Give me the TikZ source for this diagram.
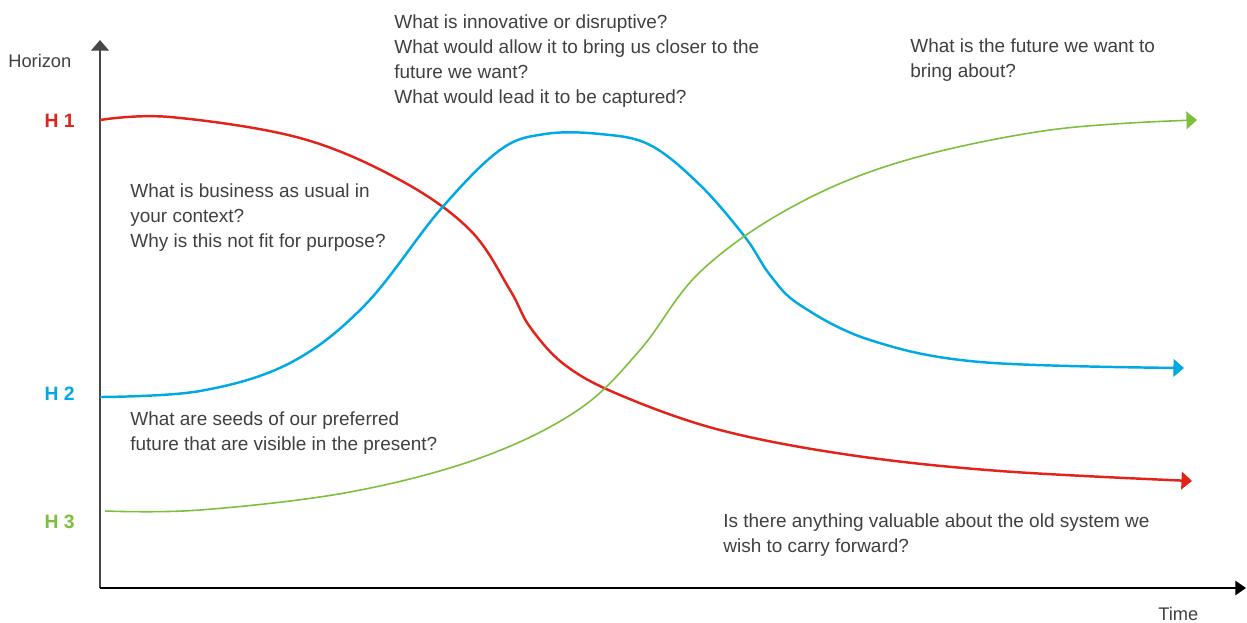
\documentclass[tikz,border=0pt]{standalone}
\usepackage{fontspec}
\setmainfont{Liberation Sans}
\usetikzlibrary{arrows.meta,
  calc,
  positioning
}
\definecolor{hred}{RGB}{226,35,26}
\definecolor{hblue}{RGB}{0,169,230}
\definecolor{hgreen}{RGB}{125,190,60}
\definecolor{htext}{RGB}{64,64,64}
\definecolor{haxis}{RGB}{70,70,70}

\begin{document}
\begin{tikzpicture}[x=0.02cm,y=-0.02cm,
  question/.style={anchor=base west,align=left,inner sep=0,text=htext,
    font=\fontsize{10.8}{14.2}\selectfont},
  axislabel/.style={anchor=base west,inner sep=0,text=htext,font=\fontsize{10.4}{12}\selectfont},
  horizon/.style={anchor=base east,inner sep=0,font=\fontsize{11}{13}\selectfont\bfseries},
  curve/.style={line width=1.4pt,-{Triangle[length=6pt,width=10pt]}}]
  \useasboundingbox (0,0) rectangle (1247,622);

  % axes
  \coordinate (origin) at (100,588);
  \coordinate (ytip) at (100,40);
  \coordinate (xtip) at (1246,588);
  \draw[haxis,line width=1.1pt,-{Triangle[length=6pt,width=10pt]}] (origin) -- (ytip);
  \draw[black,line width=1.1pt,-{Triangle[length=6pt,width=8pt]}] (origin) -- (xtip);
  \node[axislabel] (horizon) at (8,67) {Horizon};
  \node[axislabel] (time) at (1158,620) {Time};

  % horizon labels
  \node[horizon,hred] (h1) at (75,127) {H 1};
  \node[horizon,hblue] (h2) at (75,400) {H 2};
  \node[horizon,hgreen] (h3) at (75,528) {H 3};

  % curves
  \coordinate (h1start) at (100,120);
  \coordinate (h1end) at (1192,481);
  \coordinate (h2start) at (100,397);
  \coordinate (h2end) at (1184,368);
  \coordinate (h3start) at (105,511);
  \coordinate (h3end) at (1197,120);

  \draw[curve,hred] plot[smooth,tension=0.6] coordinates {(h1start) (170,117)
    (300,138) (400,180) (470,230) (510,290) (530,327) (565,365) (620,395)
    (720,430) (850,455) (1000,471) (h1end)};
  \draw[curve,hblue] plot[smooth,tension=0.6] coordinates {(h2start) (200,391)
    (290,363) (365,305) (440,210) (500,150) (545,134) (600,134) (650,145)
    (700,185) (745,237) (770,275) (800,305) (870,340) (980,362) (h2end)};
  \draw[curve,hgreen,line width=0.9pt] plot[smooth,tension=0.6] coordinates {(h3start)
    (200,510) (350,492) (480,458) (578,410) (640,350) (700,272) (790,208)
    (900,162) (1050,130) (h3end)};

  % questions
  \node[question] (disrupt) at (394,103) {What is innovative or disruptive?\\
    What would allow it to bring us closer to the\\
    future we want?\\
    What would lead it to be captured?};
  \node[question] (future) at (910,77) {What is the future we want to\\
    bring about?};
  \node[question] (usual) at (130,247) {What is business as usual in\\
    your context?\\
    Why is this not fit for purpose?};
  \node[question] (seeds) at (130,450) {What are seeds of our preferred\\
    future that are visible in the present?};
  \node[question] (valuable) at (723,552) {Is there anything valuable about the old system we\\
    wish to carry forward?};
\end{tikzpicture}
\end{document}
